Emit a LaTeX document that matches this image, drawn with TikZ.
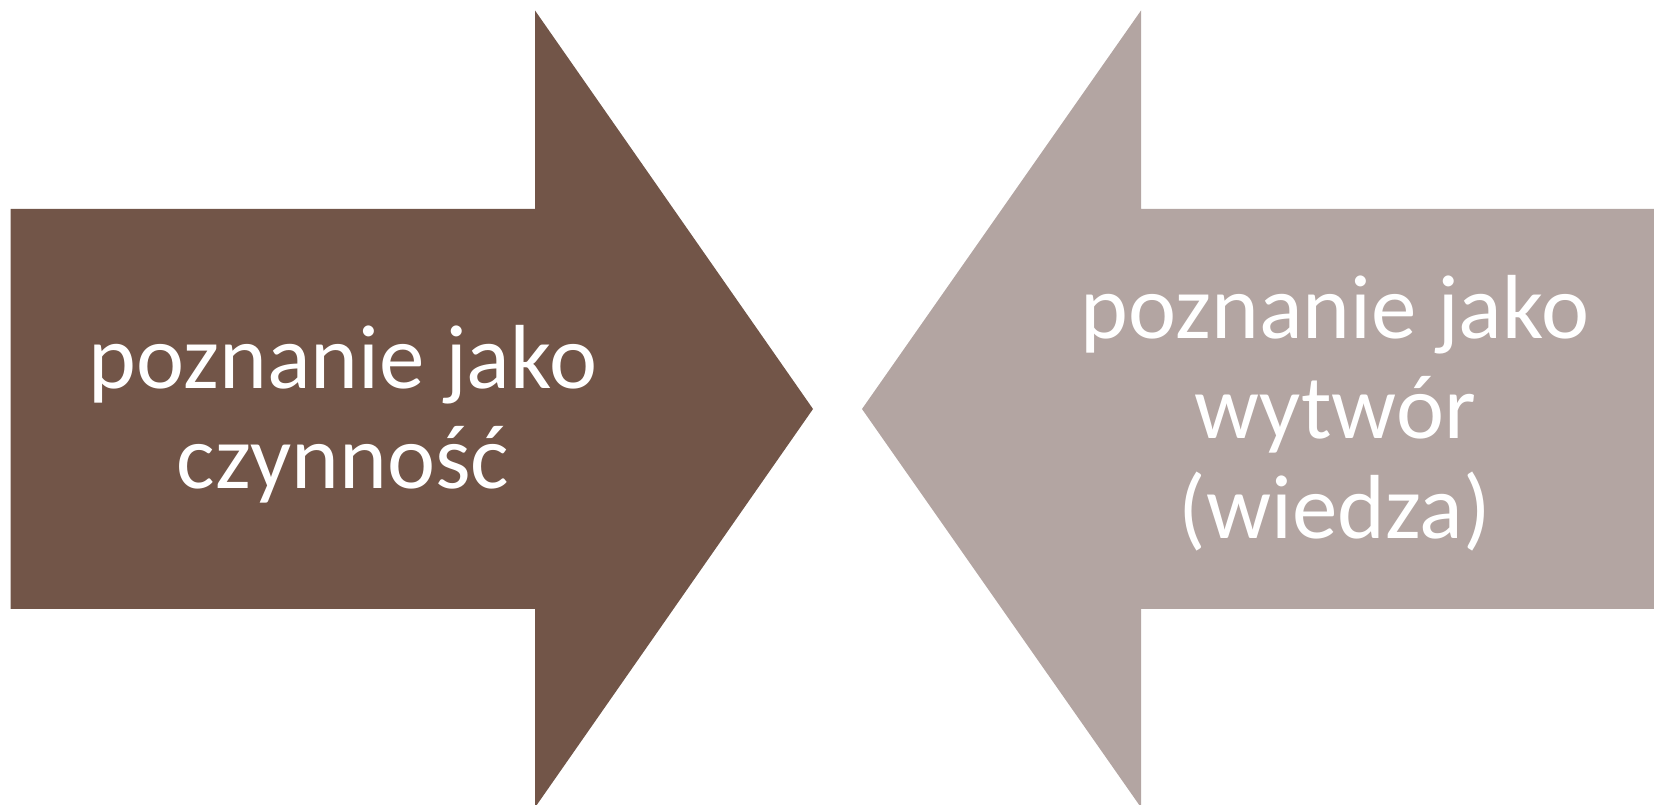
\documentclass[tikz,border=0pt]{standalone}
\usepackage{fontspec}
\setmainfont{Carlito}
\usepackage{tikz}
\usetikzlibrary{positioning}
\definecolor{darkbrown}{HTML}{725548}
\definecolor{lightbrown}{HTML}{B3A5A2}

\begin{document}
\begin{tikzpicture}[
    x=1pt, y=1pt,
    bigarrow/.style={draw=none},
    arrowtext/.style={text=white, align=center, inner sep=0pt, font=\fontsize{91}{100}\selectfont}
]
    \useasboundingbox (0,0) rectangle (1654,805);

    % Left arrow
    \fill[bigarrow, darkbrown] (10.5,596) -- (535,596) -- (535,794.5) -- (813,396)
        -- (535,-2.5) -- (535,196) -- (10.5,196) -- cycle;
    \node[arrowtext] (activity) at (343,391) {poznanie jako\\czynność};

    % Right arrow
    \fill[bigarrow, lightbrown] (1654,596) -- (1141,596) -- (1141,794.5) -- (862,396)
        -- (1141,-2.5) -- (1141,196) -- (1654,196) -- cycle;
    \node[arrowtext] (product) at (1335,392) {poznanie jako\\wytwór\\(wiedza)};
\end{tikzpicture}
\end{document}
